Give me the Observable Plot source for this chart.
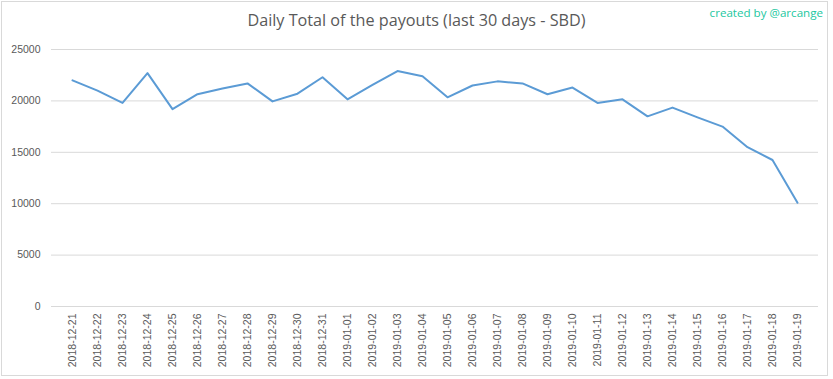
<!DOCTYPE html>
<html>
<head>
<meta charset="utf-8">
<script src="https://cdn.jsdelivr.net/npm/d3@7"></script>
<script src="https://cdn.jsdelivr.net/npm/@observablehq/plot@0.6"></script>
<style>
  html, body { margin: 0; padding: 0; background: #fff; }
  #wrap { position: relative; width: 833px; height: 379px; overflow: hidden; }
  #frame { position: absolute; left: 1px; top: 1px; width: 825px; height: 373px; border: 1px solid #d9d9d9; box-sizing: content-box; pointer-events: none; }
  #title { position: absolute; left: 0; width: 833px; top: 9px; text-align: center; font-family: "Open Sans", sans-serif; font-size: 16.2px; color: #595959; }
  #credit { position: absolute; right: 10px; top: 5px; font-family: "Open Sans", sans-serif; font-size: 11.6px; color: #22c7a0; }
  #chart { position: absolute; left: 0; top: 0; }
</style>
</head>
<body>
<div id="wrap">
  <div id="chart"></div>
  <div id="frame"></div>
  <div id="title">Daily Total of the payouts (last 30 days - SBD)</div>
  <div id="credit">created by @arcange</div>
</div>
<script>
const dates = [
  "2018-12-21","2018-12-22","2018-12-23","2018-12-24","2018-12-25","2018-12-26",
  "2018-12-27","2018-12-28","2018-12-29","2018-12-30","2018-12-31","2019-01-01",
  "2019-01-02","2019-01-03","2019-01-04","2019-01-05","2019-01-06","2019-01-07",
  "2019-01-08","2019-01-09","2019-01-10","2019-01-11","2019-01-12","2019-01-13",
  "2019-01-14","2019-01-15","2019-01-16","2019-01-17","2019-01-18","2019-01-19"
];
const payouts = [
  22000, 21000, 19800, 22700, 19200, 20650,
  21200, 21700, 19950, 20700, 22300, 20150,
  21550, 22900, 22400, 20350, 21500, 21900,
  21700, 20650, 21300, 19800, 20150, 18500,
  19350, 18400, 17500, 15500, 14250, 10100
];
const yTicks = [0, 5000, 10000, 15000, 20000, 25000];

const data = dates.map((d, i) => ({date: d, value: payouts[i]}));

const chart = Plot.plot({
  width: 833,
  height: 379,
  marginLeft: 51,
  marginRight: 15,
  marginTop: 49,
  marginBottom: 73,
  style: { fontFamily: "Liberation Sans, Arial, sans-serif", color: "#595959", background: "transparent" },
  x: { type: "point", domain: dates, padding: 0.5, label: null },
  y: { domain: [0, 25000], label: null },
  marks: [
    Plot.ruleY(yTicks, { stroke: "#d9d9d9", strokeWidth: 1 }),
    Plot.axisY(yTicks, { tickSize: 0, tickPadding: 11, fontSize: 10.5, fill: "#595959", label: null, tickFormat: d3.format("d") }),
    Plot.axisX({ tickSize: 0, tickPadding: 7, tickRotate: -90, fontSize: 10.5, fill: "#595959", label: null }),
    Plot.line(data, { x: "date", y: "value", stroke: "#5b9bd5", strokeWidth: 2, strokeLinejoin: "round" })
  ]
});
document.getElementById("chart").appendChild(chart);
</script>
</body>
</html>
